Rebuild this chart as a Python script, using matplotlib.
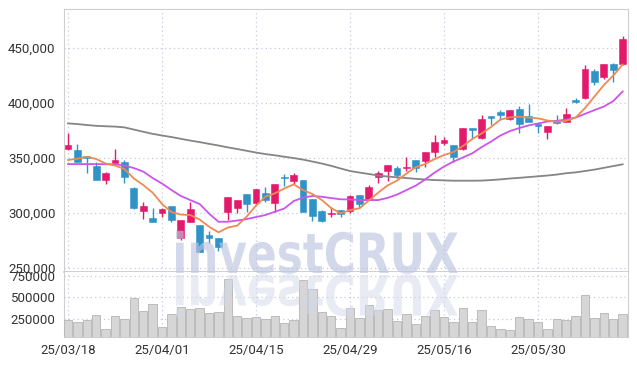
import matplotlib
matplotlib.use('Agg')
import matplotlib.pyplot as plt
from matplotlib.textpath import TextPath
from matplotlib.patches import PathPatch
from matplotlib.font_manager import FontProperties
from matplotlib.transforms import Affine2D
import matplotlib.ticker as mticker

# trading days, 25/03/18 .. 25/06/16
dates = ['25/03/18', '25/03/19', '25/03/20', '25/03/21', '25/03/24', '25/03/25', '25/03/26', '25/03/27', '25/03/28', '25/03/31',
         '25/04/01', '25/04/02', '25/04/03', '25/04/04', '25/04/07', '25/04/08', '25/04/09', '25/04/10', '25/04/11', '25/04/14',
         '25/04/15', '25/04/16', '25/04/17', '25/04/18', '25/04/21', '25/04/22', '25/04/23', '25/04/24', '25/04/25', '25/04/28',
         '25/04/29', '25/04/30', '25/05/02', '25/05/07', '25/05/08', '25/05/09', '25/05/12', '25/05/13', '25/05/14', '25/05/15',
         '25/05/16', '25/05/19', '25/05/20', '25/05/21', '25/05/22', '25/05/23', '25/05/26', '25/05/27', '25/05/28', '25/05/29',
         '25/05/30', '25/06/02', '25/06/04', '25/06/05', '25/06/09', '25/06/10', '25/06/11', '25/06/12', '25/06/13', '25/06/16']

opens = [358200, 357300, 351500, 343000, 330000, 345700, 346100, 323000, 302100, 295200,
         300300, 306400, 277600, 292100, 289100, 280000, 277000, 301200, 304300, 317300,
         308800, 318500, 309400, 333000, 329400, 330000, 312400, 302100, 298800, 302700,
         302100, 316400, 312700, 332500, 338500, 340600, 340600, 348200, 347300, 355200,
         363400, 361800, 357900, 377000, 367900, 387600, 392100, 385200, 394300, 388200,
         381000, 373900, 383600, 383000, 402700, 404300, 429100, 423900, 435500, 435200]
highs = [372700, 362500, 352000, 346600, 337600, 358200, 348200, 324000, 309700, 304300,
         304300, 306400, 294000, 309700, 289500, 283600, 277000, 314300, 312000, 317300,
         322000, 324000, 326400, 335500, 336100, 330500, 312500, 302500, 305200, 303000,
         316000, 316400, 325500, 338500, 344000, 342700, 350600, 348500, 355500, 370900,
         369400, 362000, 377500, 377500, 389100, 388000, 393600, 394000, 397300, 399100,
         381500, 379500, 389100, 395200, 404300, 434500, 430600, 435800, 436000, 461200]
lows = [357300, 346000, 336000, 330000, 326100, 345500, 327000, 304000, 294300, 292000,
        296600, 292100, 275500, 292000, 264500, 272400, 265700, 293600, 299700, 301200,
        307000, 309700, 301200, 324500, 326400, 301000, 292700, 292000, 296600, 296600,
        299700, 304300, 312000, 327600, 329100, 331500, 338500, 337000, 342100, 351200,
        361800, 346600, 357500, 368000, 367500, 380000, 384500, 384500, 372500, 382800,
        373000, 367000, 380600, 382500, 400300, 404000, 416400, 421500, 419400, 435000]
closes = [361800, 346600, 350500, 330000, 336100, 348200, 333000, 304300, 306400, 292100,
          303400, 293600, 293600, 303400, 264800, 277000, 269400, 314300, 311800, 307900,
          321800, 311800, 326400, 331500, 334500, 301200, 297600, 293000, 300300, 299100,
          315500, 307900, 323400, 336100, 343600, 334500, 341500, 340600, 355200, 364800,
          366400, 351200, 377000, 375500, 385200, 386600, 389100, 393600, 380600, 383000,
          379400, 379100, 381500, 390000, 401200, 430600, 419400, 435500, 430000, 457900]
volumes = [234600, 211500, 234600, 288500, 134600, 280800, 246200, 492300, 338500, 423100,
           153800, 303800, 384600, 361500, 373100, 319200, 330800, 715400, 280800, 257700,
           269200, 246200, 280800, 203800, 234600, 703800, 600000, 326900, 280800, 142300,
           373100, 257700, 407700, 350000, 361500, 226900, 303800, 188500, 280800, 350000,
           269200, 211500, 373100, 211500, 350000, 165400, 130800, 119200, 269200, 250000,
           211500, 130800, 246200, 234600, 280800, 523100, 257700, 315400, 246200, 303800]

# moving averages
ma_short = [348200, 349500, 351200, 349100, 345000, 343200, 340000, 331400, 325500, 318500,
            308200, 300900, 298600, 298200, 294100, 287600, 282500, 286800, 288600, 296800,
            306800, 315000, 317900, 322300, 326100, 320900, 317300, 311800, 304500, 299700,
            302700, 304300, 311400, 318600, 325200, 329500, 335900, 341800, 344500, 349100,
            352700, 355500, 360900, 367300, 372300, 378200, 385000, 387000, 387600, 386800,
            386100, 384100, 383000, 383800, 386800, 395500, 405900, 416400, 425000, 435000]
ma_mid = [344500, 344500, 344500, 344500, 344400, 344300, 343200, 340900, 337700, 331800,
          326800, 320900, 315500, 311800, 308200, 299500, 292100, 292100, 293200, 294500,
          296400, 298200, 301200, 304100, 310900, 314100, 315500, 314800, 313600, 312500,
          312300, 311800, 311800, 311800, 313800, 316800, 320900, 325000, 330600, 336800,
          342300, 346800, 350500, 354300, 360000, 365000, 370500, 374500, 377300, 379700,
          381400, 383200, 383900, 385000, 386800, 390200, 393600, 396800, 401800, 410500]
ma_long = [381500, 380900, 380000, 379300, 378900, 378600, 377900, 375900, 373900, 372000,
           370500, 369100, 367500, 365900, 364500, 362900, 361400, 359700, 358200, 356600,
           355000, 353600, 352500, 351200, 350000, 348600, 346800, 345000, 342900, 340500,
           338200, 336800, 335500, 334100, 333200, 332500, 331800, 331100, 330500, 330000,
           329700, 329400, 329400, 329400, 329500, 330000, 330600, 331400, 332000, 332700,
           333400, 334100, 335000, 336200, 337000, 338200, 339500, 341100, 342700, 344300]

UP = '#e3196b'
DOWN = '#2f93c8'
GRID = '#c5cade'
SPINE = '#cfcfcf'

plt.rcParams['font.family'] = ['Roboto', 'DejaVu Sans']

fig = plt.figure(figsize=(6.37, 3.66), dpi=100)
fig.patch.set_facecolor('white')
ax = fig.add_axes([0.1005, 0.2568, 0.8854, 0.7186])
axv = fig.add_axes([0.1005, 0.0792, 0.8854, 0.1776], sharex=ax)

x = list(range(len(dates)))

# candles
for i in x:
    o, h, l, c = opens[i], highs[i], lows[i], closes[i]
    col = UP if c >= o else DOWN
    ax.vlines(i, l, h, color=col, linewidth=1.0, zorder=3)
    body = max(abs(c - o), 1200)
    ax.bar(i, body, bottom=min(o, c), width=0.72, color=col,
           edgecolor=col, linewidth=0.4, zorder=4)

ax.plot(x, ma_long, color='#858585', linewidth=1.3, zorder=5)
ax.plot(x, ma_mid, color='#cb55ea', linewidth=1.3, zorder=5)
ax.plot(x, ma_short, color='#ef8a52', linewidth=1.3, zorder=6)

ax.set_xlim(-0.43, 59.57)
ax.set_ylim(246400, 485500)
ax.set_yticks([250000, 300000, 350000, 400000, 450000])
ax.yaxis.set_major_formatter(mticker.FuncFormatter(lambda v, p: '{:,}'.format(int(v))))
ax.grid(True, linestyle=(0, (1, 2.5)), color=GRID, linewidth=0.9)
ax.set_axisbelow(True)
ax.tick_params(axis='x', bottom=False, labelbottom=False)
ax.tick_params(axis='y', length=0, labelsize=9.5, labelcolor='#333333', pad=6)
for s in ax.spines.values():
    s.set_color(SPINE)
ax.spines['bottom'].set_color('#c8c8c8')
ax.spines['bottom'].set_linewidth(1.2)

# volume
axv.bar(x, volumes, width=0.9, color='#d6d6d6', edgecolor='#b5b5b5', linewidth=0.6, zorder=3)
axv.set_ylim(38700, 792700)
axv.set_yticks([250000, 500000, 750000])
axv.yaxis.set_major_formatter(mticker.FuncFormatter(lambda v, p: str(int(v))))
axv.set_xticks(x[::10])
axv.set_xticklabels(dates[::10])
axv.grid(True, linestyle=(0, (1, 2.5)), color=GRID, linewidth=0.9)
axv.set_axisbelow(True)
axv.tick_params(axis='both', length=0, labelsize=9.5, labelcolor='#333333')
axv.tick_params(axis='y', pad=6)
axv.tick_params(axis='x', pad=5)
for s in axv.spines.values():
    s.set_color(SPINE)
axv.spines['top'].set_visible(False)

# watermark with reflection
tp = TextPath((0, 0), 'investCRUX', size=1,
              prop=FontProperties(family='DejaVu Sans', weight='bold'))
bb = tp.get_extents()
sx = 282 / bb.width
sy = 40.5 / 0.729
base = 366 - 273
tr = Affine2D().scale(sx, sy).translate(176 - bb.x0 * sx, base)
fig.add_artist(PathPatch(tp, transform=tr, facecolor='#bcc5e0', edgecolor='none',
                         alpha=0.65, zorder=10))
tr2 = Affine2D().scale(sx, -sy).translate(176 - bb.x0 * sx, base - 2)
fig.add_artist(PathPatch(tp, transform=tr2, facecolor='#d5d9ea', edgecolor='none',
                         alpha=0.5, zorder=10))

fig.savefig('out.png', dpi=100)
